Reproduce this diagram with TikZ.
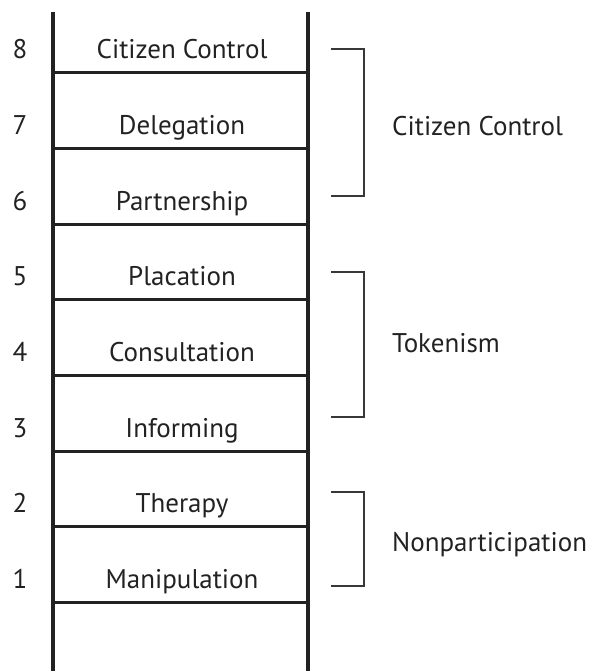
\documentclass[tikz,border=0pt]{standalone}
\usepackage{fontspec}
\setmainfont{PT Sans}
\usetikzlibrary{calc}
\definecolor{inkgray}{HTML}{222222}
\tikzset{
  rail/.style={line width=3.8pt,inkgray},
  rung/.style={line width=3pt,inkgray},
  brace/.style={line width=1.6pt,inkgray!90},
  lvltext/.style={font=\fontsize{27}{30}\selectfont,text=inkgray,inner sep=0pt,anchor=base},
}

\begin{document}
\begin{tikzpicture}[x=1pt,y=-1pt]
			%%%%% START %%%%%
			\useasboundingbox (0,0) rectangle (591,671);
			
			% ladder rails
			\draw[rail] (53,12) -- (53,671);
			\draw[rail] (308,12) -- (308,671);
			
			% rungs
			\foreach \i in {0,...,7}
				\draw[rung] (53,{73+75.6*\i}) -- (308,{73+75.6*\i});
			
			% levels, top down
			\foreach \n/\name [count=\i from 0] in {8/Citizen Control,7/Delegation,6/Partnership,5/Placation,4/Consultation,3/Informing,2/Therapy,1/Manipulation}{
				\node[lvltext] (num\n) at (20,{59+75.6*\i}) {\n};
				\node[lvltext] (lvl\n) at (182,{59+75.6*\i}) {\name};
			}
			
			% brackets
			\draw[brace] (331,49) -- (364,49) -- (364,196) -- (331,196);
			\draw[brace] (331,272) -- (364,272) -- (364,417) -- (331,417);
			\draw[brace] (331,492) -- (364,492) -- (364,586) -- (331,586);
			
			\node[lvltext,anchor=base west] (grpcitizen) at (392,136) {Citizen Control};
			\node[lvltext,anchor=base west] (grptoken) at (392,352) {Tokenism};
			\node[lvltext,anchor=base west] (grpnon) at (392,551) {Nonparticipation};
			%%%%% END %%%%%
\end{tikzpicture}
\end{document}
